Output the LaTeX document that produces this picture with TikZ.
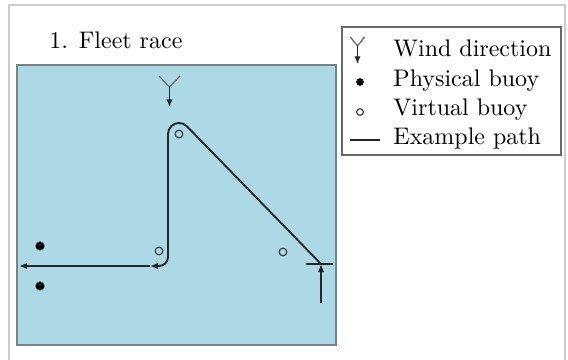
\documentclass[tikz,border=0pt]{standalone}
\usepackage{tikz}
\usetikzlibrary{arrows.meta}
\definecolor{water}{RGB}{173,216,230}
\definecolor{frame}{RGB}{205,205,205}
\definecolor{shore}{RGB}{120,130,135}
\definecolor{keybox}{RGB}{105,105,105}

\begin{document}
\begin{tikzpicture}[x=0.417pt, y=-0.417pt,
		leg/.style={-{Latex[length=3.4pt,width=2.8pt]}, line width=0.8pt, black!85},
		vane/.style={black!60, line width=0.5pt},
		windarr/.style={-{Latex[length=3.2pt,width=2.6pt]}, black!85, line width=0.55pt},
		buoy/.style={circle, fill=black, inner sep=0pt, minimum size=3.8pt},
		vbuoy/.style={circle, draw=black!75, line width=0.5pt, inner sep=0pt, minimum size=3.2pt},
		keytext/.style={anchor=base west, inner sep=0pt}]
	\useasboundingbox (0,0) rectangle (568,360);
	\draw[frame, line width=0.6pt] (9,5) rectangle (565,372);
	\draw[shore, fill=water, line width=0.9pt] (17,65) rectangle (336,345);
	\node[keytext] (title) at (49,49) {1. Fleet race};

	% wind
	\coordinate (wj) at (169.5,87);
	\draw[vane] (159,76) -- (wj) -- (180,76);
	\draw[windarr] (wj) -- (169.5,107);

	% buoys
	\node[buoy] (p1) at (40,246) {};
	\node[buoy] (p2) at (40,286) {};
	\node[vbuoy] (v1) at (179,134) {};
	\node[vbuoy] (v2) at (159,251) {};
	\node[vbuoy] (v3) at (283,252) {};

	% start line and course
	\coordinate (sl) at (306,264);
	\coordinate (sr) at (333,264);
	\draw[line width=0.8pt, black!85] (sl) -- (sr);
	\coordinate (go) at (321,303);
	\coordinate (st) at (321,264);
	\coordinate (ta) at (186.8,126.2);
	\coordinate (ba) at (168,257);
	\coordinate (mk) at (150,266);
	\coordinate (fin) at (19,266);
	\draw[leg] (go) -- (st);
	\draw[leg] (st) -- (ta) arc[start angle=-45, end angle=-180, radius=11]
		-- (ba) arc[start angle=0, end angle=90, radius=9] -- (mk);
	\draw[leg] (mk) -- (fin);

	% key
	\draw[keybox, line width=0.5pt] (342,27) rectangle (561,155);
	\coordinate (kj) at (357.5,46);
	\draw[vane] (350.5,37) -- (kj) -- (364.5,37);
	\draw[windarr] (kj) -- (357.5,64);
	\node[keytext] (kw) at (393,57) {Wind direction};
	\node[buoy, minimum size=3.2pt] (kp) at (360,82) {};
	\node[keytext] (kpt) at (393,87) {Physical buoy};
	\node[vbuoy, minimum size=2.8pt] (kv) at (360,112) {};
	\node[keytext] (kvt) at (393,116) {Virtual buoy};
	\coordinate (ka) at (350,140);
	\coordinate (kb) at (380,140);
	\draw[line width=0.8pt, black!85] (ka) -- (kb);
	\node[keytext] (kxt) at (393,145) {Example path};
\end{tikzpicture}
\end{document}
